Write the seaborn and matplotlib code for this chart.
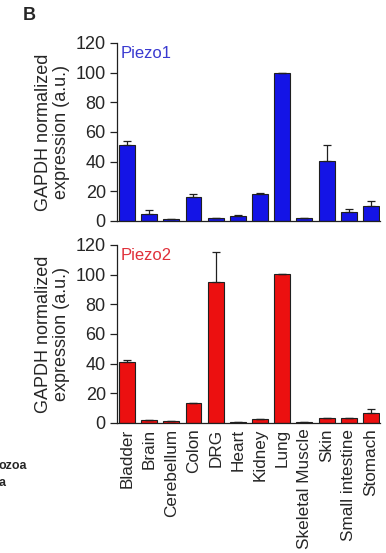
import matplotlib
matplotlib.use("Agg")
import matplotlib.pyplot as plt
import seaborn as sns
import pandas as pd
import numpy as np

tissues = ["Bladder", "Brain", "Cerebellum", "Colon", "DRG", "Heart", "Kidney",
           "Lung", "Skeletal Muscle", "Skin", "Small intestine", "Stomach"]
piezo1_mean = [51.3, 4.7, 1.4, 16.2, 2.0, 3.4, 18.2, 99.8, 2.3, 40.5, 6.1, 10.4]
piezo1_err = [2.3, 2.7, 0.0, 2.1, 0.0, 0.4, 0.4, 0.0, 0.0, 10.6, 2.2, 3.1]
piezo2_mean = [40.8, 1.8, 1.6, 13.5, 95.3, 0.7, 2.5, 100.2, 0.5, 3.6, 3.6, 7.0]
piezo2_err = [1.8, 0.0, 0.0, 0.0, 20.0, 0.0, 0.0, 0.0, 0.0, 0.0, 0.0, 2.5]
yticks = [0, 20, 40, 60, 80, 100, 120]

sns.set_style("white")
plt.rcParams["font.family"] = ["Liberation Sans", "DejaVu Sans"]

fig = plt.figure(figsize=(3.86, 5.53), dpi=100)
ax1 = fig.add_axes([0.303, 0.6004, 0.681, 0.3219])
ax2 = fig.add_axes([0.303, 0.2351, 0.681, 0.3219])

panels = [
    (ax1, piezo1_mean, piezo1_err, "#1414e6", "Piezo1", "#3a3ad0"),
    (ax2, piezo2_mean, piezo2_err, "#ec1010", "Piezo2", "#e0303a"),
]

for ax, mean, err, col, name, tcol in panels:
    df = pd.DataFrame({"tissue": tissues, "value": mean})
    sns.barplot(data=df, x="tissue", y="value", color=col, saturation=1,
                width=0.72, edgecolor="#202020", linewidth=0.8, ax=ax,
                errorbar=None)
    ax.errorbar(x=np.arange(len(tissues)), y=mean,
                yerr=[np.zeros(len(err)), err], fmt="none",
                ecolor="#202020", elinewidth=0.9, capsize=3.2, capthick=0.9)
    ax.set_xlim(-0.45, 11.4)
    ax.set_ylim(0, 120)
    ax.set_yticks(yticks)
    ax.set_yticklabels([str(t) for t in yticks], fontsize=13)
    ax.set_ylabel("GAPDH normalized\nexpression (a.u.)", fontsize=13,
                  labelpad=4, linespacing=1.1)
    ax.set_xlabel("")
    for s in ["top", "right"]:
        ax.spines[s].set_visible(False)
    for s in ["left", "bottom"]:
        ax.spines[s].set_color("#202020")
        ax.spines[s].set_linewidth(0.9)
    ax.tick_params(axis="y", direction="out", length=5, width=0.9,
                   color="#202020", pad=3, left=True)
    ax.tick_params(axis="x", length=0)
    ax.text(0.015, 0.985, name, transform=ax.transAxes, color=tcol,
            fontsize=12, va="top", ha="left")

ax1.set_xticklabels([])
ax2.set_xticklabels(tissues, rotation=90, fontsize=12.3)
ax2.tick_params(axis="x", pad=4)

fig.text(0.06, 0.972, "B", fontsize=13, fontweight="bold", va="center", ha="left")
fig.text(-0.004, 0.157, "ozoa", fontsize=9, fontweight="bold", va="center", ha="left")
fig.text(-0.004, 0.127, "a", fontsize=9, fontweight="bold", va="center", ha="left")

fig.savefig("out.png", dpi=100)
